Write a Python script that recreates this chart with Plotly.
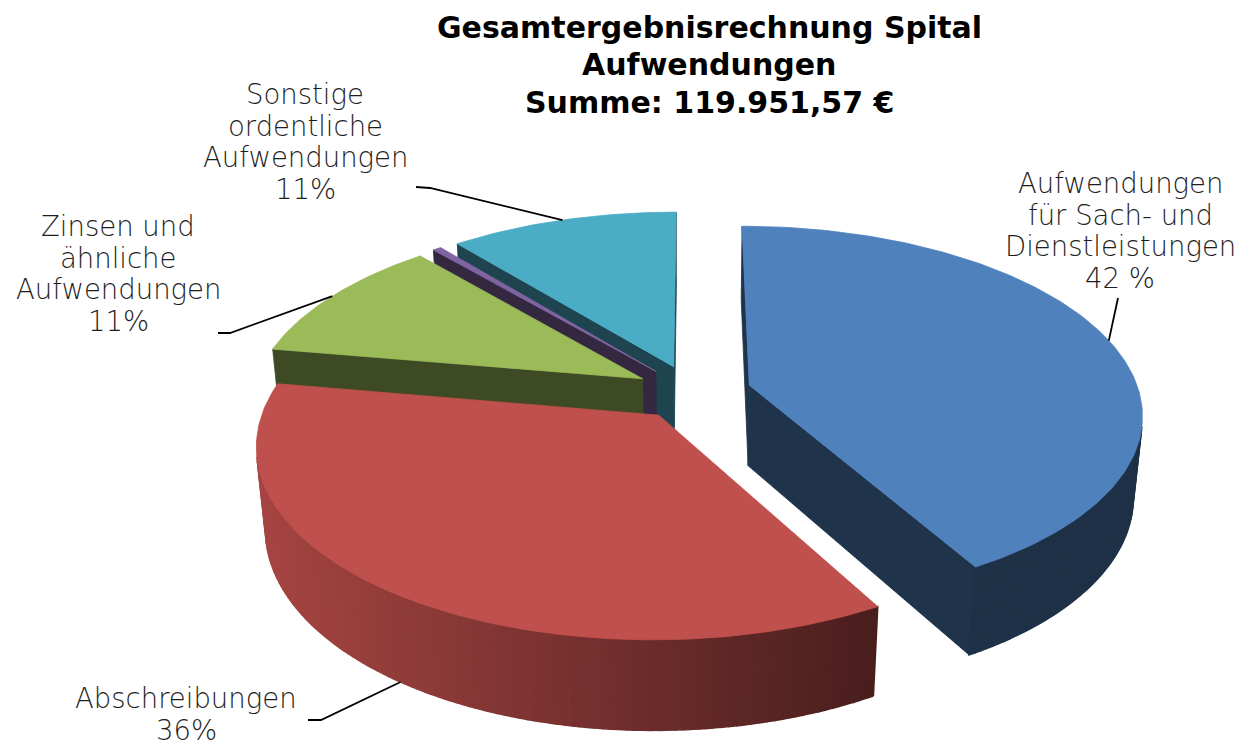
import numpy as np
import plotly.graph_objects as go

# ---------------- data ----------------
categories = [
    "Aufwendungen für Sach- und Dienstleistungen",
    "Abschreibungen",
    "Zinsen und ähnliche Aufwendungen",
    "Weitere Aufwendungen",
    "Sonstige ordentliche Aufwendungen",
]
values = [42.0, 36.0, 11.0, 0.4, 11.0]          # percent shares
label_lines = [
    ["Aufwendungen", "für Sach- und", "Dienstleistungen", "42 %"],
    ["Abschreibungen", "36%"],
    ["Zinsen und", "ähnliche", "Aufwendungen", "11%"],
    [],
    ["Sonstige", "ordentliche", "Aufwendungen", "11%"],
]
title_lines = ["Gesamtergebnisrechnung Spital", "Aufwendungen", "Summe: 119.951,57 €"]
colors = ["#4F81BD", "#C0504D", "#9BBB59", "#8064A2", "#4BACC6"]

# ---------------- layout / camera parameters ----------------
W, HPX = 1242, 746
CX, CY, SCALE = 685, 465, 382
PHI = np.radians(30.2)
DIST = 6.0
THICK = 0.24
EXPLODE = 0.15
STEP = np.radians(1)

LABEL_POS = [(1112, 175), (178, 690), (110, 218), None, (297, 86)]   # first line centre
LINE_GAP = 31.5
LEADER_START = [(1110, 290), (300, 712), (210, 325), None, (408, 179)]
LEADER_ELBOW = [None, (313, 712), (222, 325), None, (422, 180)]
ANCHOR_LEVEL = [THICK, 0.0, THICK, None, THICK]
LABEL_FONT = dict(family="DejaVu Sans", size=27.5, color="#1e1e1e", weight=300)
TITLE_FONT = dict(family="DejaVu Sans", size=30, color="#000000", weight="bold")
TITLE_X, TITLE_Y0, TITLE_GAP = 701, 19, 37.5

cosP, sinP = np.cos(PHI), np.sin(PHI)
CAM = np.array([0.0, DIST * sinP, -DIST * cosP])


def project(X, Y, Z):
    X = np.asarray(X, float); Y = np.asarray(Y, float); Z = np.asarray(Z, float)
    v = Y * cosP + Z * sinP
    w = Z * cosP - Y * sinP
    s = DIST / (DIST + w)
    return CX + SCALE * X * s, CY - SCALE * v * s


def shade(hexcol, f):
    h = hexcol.lstrip("#")
    r, g, b = (int(h[i:i + 2], 16) for i in (0, 2, 4))
    return "rgb(%d,%d,%d)" % (r * f, g * f, b * f)


fracs = np.array(values) / np.sum(values)
starts = np.concatenate([[0.0], np.cumsum(fracs)[:-1]]) * 2 * np.pi
ends = starts + fracs * 2 * np.pi

side_faces = []   # (distance, xs, ys, color, linewidth)
top_faces = []
anchors = []

for i, (t1, t2) in enumerate(zip(starts, ends)):
    mid = 0.5 * (t1 + t2)
    ox, oz = EXPLODE * np.sin(mid), EXPLODE * np.cos(mid)
    n = max(2, int(np.ceil((t2 - t1) / STEP)))
    ts = np.linspace(t1, t2, n + 1)

    # top face
    X = np.concatenate([[ox], ox + np.sin(ts)])
    Z = np.concatenate([[oz], oz + np.cos(ts)])
    sx, sy = project(X, np.full_like(X, THICK), Z)
    top_faces.append((sx, sy, colors[i], categories[i], values[i]))

    # outer curved side
    for a, b in zip(ts[:-1], ts[1:]):
        m = 0.5 * (a + b)
        P = np.array([ox + np.sin(m), THICK / 2, oz + np.cos(m)])
        nrm = np.array([np.sin(m), 0.0, np.cos(m)])
        if np.dot(nrm, CAM - P) <= 0:
            continue
        Xq = [ox + np.sin(a), ox + np.sin(b), ox + np.sin(b), ox + np.sin(a)]
        Zq = [oz + np.cos(a), oz + np.cos(b), oz + np.cos(b), oz + np.cos(a)]
        Yq = [0, 0, THICK, THICK]
        qx, qy = project(Xq, Yq, Zq)
        f = float(np.clip(0.87 - 0.49 * (np.mean(qx) - 250) / 620, 0.38, 0.87))
        side_faces.append((np.linalg.norm(CAM - P), qx, qy, shade(colors[i], f), 1.6))

    # radial faces
    for t, nrm in ((t1, np.array([-np.cos(t1), 0, np.sin(t1)])),
                   (t2, np.array([np.cos(t2), 0, -np.sin(t2)]))):
        P = np.array([ox + 0.5 * np.sin(t), THICK / 2, oz + 0.5 * np.cos(t)])
        if np.dot(nrm, CAM - P) <= 0:
            continue
        Xq = [ox, ox + np.sin(t), ox + np.sin(t), ox]
        Zq = [oz, oz + np.cos(t), oz + np.cos(t), oz]
        Yq = [0, 0, THICK, THICK]
        qx, qy = project(Xq, Yq, Zq)
        side_faces.append((np.linalg.norm(CAM - P), qx, qy, shade(colors[i], 0.4), 0.8))

    if ANCHOR_LEVEL[i] is not None:
        ax_, ay_ = project([ox + np.sin(mid)], [ANCHOR_LEVEL[i]], [oz + np.cos(mid)])
        anchors.append((float(ax_[0]), float(ay_[0])))
    else:
        anchors.append(None)

fig = go.Figure()

for d, qx, qy, c, lw in sorted(side_faces, key=lambda t: -t[0]):
    fig.add_trace(go.Scatter(
        x=list(qx) + [qx[0]], y=list(qy) + [qy[0]], mode="lines", fill="toself",
        fillcolor=c, line=dict(color=c, width=lw), hoverinfo="skip", showlegend=False))

for sx, sy, c, name, val in top_faces:
    fig.add_trace(go.Scatter(
        x=list(sx) + [sx[0]], y=list(sy) + [sy[0]], mode="lines", fill="toself",
        fillcolor=c, line=dict(color=c, width=0.8), hoveron="fills",
        name=name, text=f"{name}: {val:g} %", hoverinfo="text", showlegend=False))

# leader lines
for i, anc in enumerate(anchors):
    if anc is None or LEADER_START[i] is None:
        continue
    pts = [LEADER_START[i]]
    if LEADER_ELBOW[i] is not None:
        pts.append(LEADER_ELBOW[i])
    pts.append(anc)
    fig.add_trace(go.Scatter(
        x=[p[0] for p in pts], y=[p[1] for p in pts], mode="lines",
        line=dict(color="#000000", width=1.8), hoverinfo="skip", showlegend=False))

annotations = []
for i, lines in enumerate(label_lines):
    if not lines:
        continue
    lx, ly = LABEL_POS[i]
    for k, txt in enumerate(lines):
        annotations.append(dict(x=lx, y=ly + k * LINE_GAP, xref="x", yref="y", text=txt,
                                showarrow=False, font=LABEL_FONT, xanchor="center", yanchor="middle"))
for k, txt in enumerate(title_lines):
    annotations.append(dict(x=TITLE_X, y=TITLE_Y0 + k * TITLE_GAP, xref="x", yref="y", text=txt,
                            showarrow=False, font=TITLE_FONT, xanchor="center", yanchor="middle"))

fig.update_layout(
    width=W, height=HPX, margin=dict(l=0, r=0, t=0, b=0),
    paper_bgcolor="white", plot_bgcolor="white",
    xaxis=dict(range=[0, W], visible=False, fixedrange=True),
    yaxis=dict(range=[HPX, 0], visible=False, fixedrange=True),
    annotations=annotations, hovermode="closest",
)

fig.write_html("out.html")
